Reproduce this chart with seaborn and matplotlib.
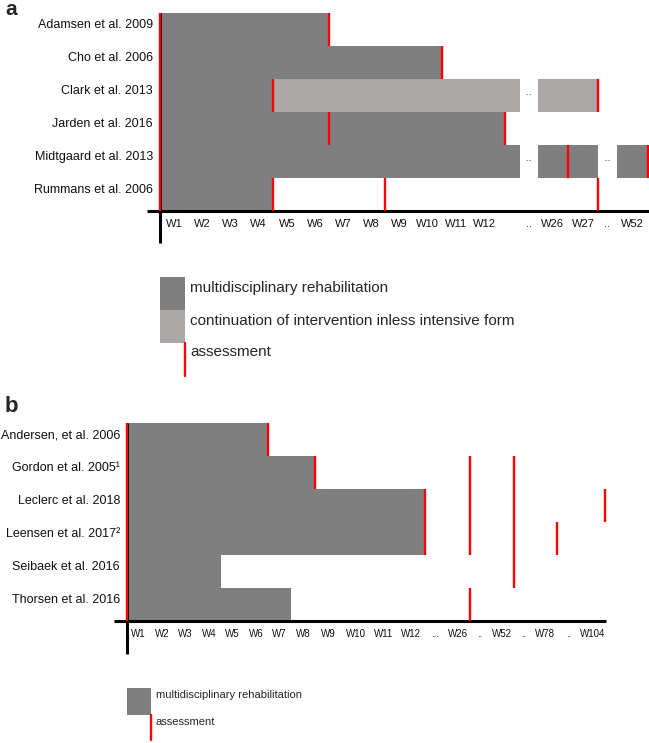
import numpy as np
import pandas as pd
import matplotlib
matplotlib.use("Agg")
import matplotlib.pyplot as plt
import matplotlib.transforms as mtransforms
from matplotlib.patches import Rectangle
from matplotlib.lines import Line2D
from matplotlib.ticker import NullLocator
import seaborn as sns

# ---- panel a: timing of intervention / assessments (weeks) ----
studies_a = ["Adamsen et al. 2009", "Cho et al. 2006", "Clark et al. 2013",
             "Jarden et al. 2016", "Midtgaard et al. 2013", "Rummans et al. 2006"]
rehab_a = [6, 10, 4, 12.25, 52, 4]
continuation_a = [None, None, (4, 27), None, None, None]
assess_a = [[0, 6], [0, 10], [0, 4, 27], [0, 6, 12.25], [0, 26, 52], [0, 4, 8, 27]]
ticks_a = ["W1", "W2", "W3", "W4", "W5", "W6", "W7", "W8", "W9", "W10", "W11", "W12",
           "..", "W26", "W27", "..", "W52"]

# ---- panel b ----
studies_b = ["Andersen, et al. 2006", "Gordon et al. 2005\u00b9", "Leclerc et al. 2018",
             "Leensen et al. 2017\u00b2", "Seibaek et al. 2016", "Thorsen et al. 2016"]
rehab_b = [6, 8, 12, 12, 4, 7]
continuation_b = [None] * 6
assess_b = [[0, 6], [0, 8, 26, 52], [0, 12, 26, 52, 104], [0, 12, 26, 52, 78], [0, 52], [0, 26]]
ticks_b = ["W1", "W2", "W3", "W4", "W5", "W6", "W7", "W8", "W9", "W10", "W11", "W12",
           "...", "W26", "..", "W52", "..", "W78", "..", "W104"]

# broken week axis: hidden week ranges, and week -> display position knots
gaps_a = [(12.77, 25), (27, 51)]
knots_w_a = [0, 12.77, 25, 27, 51, 52]
knots_p_a = [0, 12.77, 13.4, 15.55, 16.2, 17.3]
gaps_b = [(12, 25), (26, 51), (52, 77), (78, 103)]
knots_w_b = [0, 8, 12, 25, 26, 51, 52, 77, 78, 103, 104]
knots_p_b = [0, 7.67, 12.16, 13.0, 14.0, 14.8, 15.8, 16.55, 17.55, 18.5, 19.5]

DARK = "#7f7f7f"
LIGHT = "#aba7a7"
RED = "#ff0000"

sns.set_theme(style="white")
plt.rcParams["font.family"] = ["Liberation Sans", "DejaVu Sans"]

W, H = 649, 743
fig = plt.figure(figsize=(W / 100, H / 100), dpi=100)


def fx(x):
    return x / W


def fy(y):
    return 1 - y / H


def broken_scale(kw, kp):
    w = np.r_[-10.0, kw, kw[-1] + 100.0]
    p = np.r_[-10.0, kp, kp[-1] + 100.0]
    return (lambda x: np.interp(x, w, p), lambda y: np.interp(y, p, w))


def draw_panel(ax, studies, rehab, continuation, assess, tick_labels, gaps, kw, kp,
               tick_size, tick_pad, ext_bottom):
    edges = [0] + [g for gap in gaps for g in gap] + [kw[-1]]
    visible = list(zip(edges[0::2], edges[1::2]))
    pieces, dots = [], []
    for i, study in enumerate(studies):
        segs = [(0, rehab[i], DARK)]
        if continuation[i]:
            segs.append((continuation[i][0], continuation[i][1], LIGHT))
        for s, e, c in segs:
            for lo, hi in visible:
                a, b = max(s, lo), min(e, hi)
                if b > a:
                    pieces.append(dict(study=study, row=i, start=a, end=b, color=c))
            for lo, hi in gaps:
                if s < lo and e > hi:
                    dots.append(((lo + hi) / 2, i))
    df = pd.DataFrame(pieces)

    first = df[df.start == 0]
    sns.barplot(data=first, x="end", y="study", order=studies, color=DARK,
                saturation=1, width=1, orient="h", errorbar=None, ax=ax,
                linewidth=0, edgecolor="none")
    rest = df[df.start > 0]
    if len(rest):
        ax.barh(rest.row, rest.end - rest.start, left=rest.start, height=1,
                color=rest.color.tolist(), linewidth=0, edgecolor="none", zorder=2)
    for x, r in dots:
        ax.text(x, r, "\u00b7\u00b7", ha="center", va="center", fontsize=9, color="#444444")

    for i, weeks in enumerate(assess):
        ax.vlines(weeks, i - 0.5, i + 0.5, colors=RED, lw=1.7, zorder=5, clip_on=False)

    fwd, inv = broken_scale(kw, kp)
    ax.set_xscale("function", functions=(fwd, inv))
    positions, gi = [], 0
    for lab in tick_labels:
        if lab.startswith("W"):
            positions.append(int(lab[1:]) - 0.5)
        else:
            lo, hi = gaps[gi]
            gi += 1
            positions.append((lo + hi) / 2)
    ax.set_xticks(positions, tick_labels)
    ax.xaxis.set_minor_locator(NullLocator())
    ax.set_xlim(0, kw[-1] + 0.05)
    ax.set_ylim(len(studies) - 0.5, -0.5)
    ax.set(xlabel="", ylabel="")
    ax.tick_params(axis="x", length=0, pad=tick_pad, labelsize=tick_size, colors="#111111")
    ax.tick_params(axis="y", length=0, pad=5, labelsize=9, colors="#111111")
    ax.grid(False)
    for sp in ax.spines.values():
        sp.set_visible(False)
    shift = mtransforms.ScaledTranslation(0, 4 / 72, fig.dpi_scale_trans)
    for lab in ax.get_yticklabels():
        lab.set_transform(lab.get_transform() + shift)

    bbox = ax.get_position()
    ext_left = (13 / W) / bbox.width
    ax.plot([-ext_left, 1], [0, 0], transform=ax.transAxes, color="black", lw=2.2,
            clip_on=False, zorder=4, solid_capstyle="butt")
    ax.plot([0, 0], [1, -ext_bottom], transform=ax.transAxes, color="black", lw=2.2,
            clip_on=False, zorder=3, solid_capstyle="butt")


ax_a = fig.add_axes([fx(160), fy(211), (649 - 160) / W, 198 / H])
draw_panel(ax_a, studies_a, rehab_a, continuation_a, assess_a, ticks_a, gaps_a,
           knots_w_a, knots_p_a, 8, 6, 32 / 198)

ax_b = fig.add_axes([fx(127), fy(621), (606 - 127) / W, 198 / H])
draw_panel(ax_b, studies_b, rehab_b, continuation_b, assess_b, ticks_b, gaps_b,
           knots_w_b, knots_p_b, 7, 6, 33 / 198)

# panel letters
fig.text(fx(5), fy(15), "a", fontsize=15, fontweight="bold", va="baseline")
fig.text(fx(5), fy(412), "b", fontsize=16, fontweight="bold", va="baseline")

# legend a
fig.add_artist(Rectangle((fx(160), fy(310)), 25 / W, 33 / H, transform=fig.transFigure,
                         facecolor=DARK, edgecolor="none"))
fig.add_artist(Rectangle((fx(160), fy(343)), 25 / W, 33 / H, transform=fig.transFigure,
                         facecolor=LIGHT, edgecolor="none"))
fig.add_artist(Line2D([fx(185), fx(185)], [fy(343), fy(376)], transform=fig.transFigure,
                      color=RED, lw=1.7))
fig.text(fx(190), fy(288), "multidisciplinary rehabilitation", fontsize=11, va="center")
fig.text(fx(190), fy(321), "continuation of intervention inless intensive form", fontsize=11, va="center")
fig.text(fx(190), fy(352), "assessment", fontsize=11, va="center")

# legend b
fig.add_artist(Rectangle((fx(127), fy(715)), 24 / W, 27 / H, transform=fig.transFigure,
                         facecolor=DARK, edgecolor="none"))
fig.add_artist(Line2D([fx(151), fx(151)], [fy(715), fy(740)], transform=fig.transFigure,
                      color=RED, lw=1.7))
fig.text(fx(156), fy(695), "multidisciplinary rehabilitation", fontsize=8, va="center")
fig.text(fx(156), fy(722), "assessment", fontsize=8, va="center")

fig.savefig("out.png", dpi=100)
